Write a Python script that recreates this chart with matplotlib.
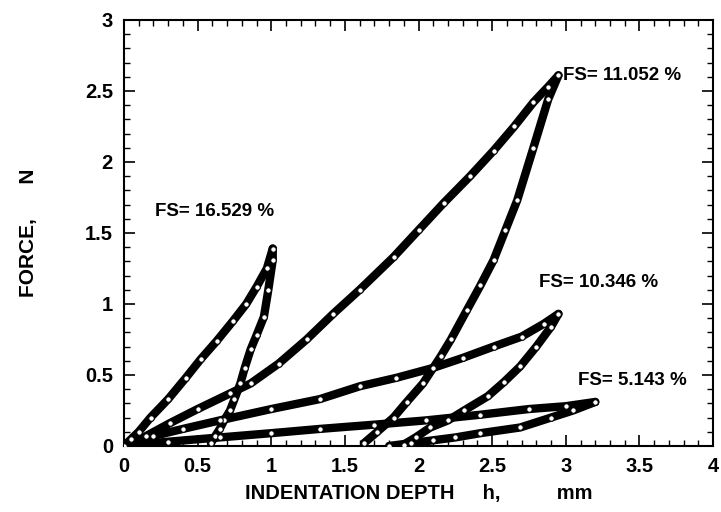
import matplotlib
matplotlib.use("Agg")
import matplotlib.pyplot as plt
from matplotlib.ticker import MultipleLocator

plt.rcParams['font.family'] = ['Liberation Sans', 'DejaVu Sans']

# loop FS = 16.529 %
a_load_h = [0, 0.05, 0.1, 0.18, 0.3, 0.42, 0.52, 0.63, 0.74, 0.83, 0.9, 0.97, 1.01]
a_load_f = [0, 0.05, 0.1, 0.2, 0.33, 0.48, 0.61, 0.74, 0.88, 1.0, 1.12, 1.25, 1.39]
a_unl_h = [1.01, 1.01, 0.98, 0.95, 0.9, 0.86, 0.82, 0.79, 0.75, 0.72, 0.68, 0.65, 0.62, 0.59]
a_unl_f = [1.39, 1.31, 1.1, 0.91, 0.78, 0.68, 0.55, 0.44, 0.33, 0.25, 0.18, 0.12, 0.07, 0.02]

# loop FS = 11.052 %
b_load_h = [0, 0.15, 0.31, 0.5, 0.72, 0.86, 1.05, 1.24, 1.42, 1.6, 1.83, 2.0, 2.17, 2.35, 2.51, 2.65, 2.78, 2.88, 2.95]
b_load_f = [0, 0.07, 0.16, 0.26, 0.37, 0.44, 0.58, 0.75, 0.93, 1.1, 1.33, 1.52, 1.71, 1.9, 2.08, 2.25, 2.42, 2.53, 2.61]
b_unl_h = [2.95, 2.88, 2.78, 2.67, 2.59, 2.51, 2.42, 2.33, 2.22, 2.15, 2.03, 1.92, 1.83, 1.72, 1.63]
b_unl_f = [2.61, 2.44, 2.1, 1.73, 1.52, 1.31, 1.13, 0.96, 0.75, 0.63, 0.44, 0.31, 0.2, 0.1, 0.02]

# loop FS = 10.346 %
c_load_h = [0, 0.2, 0.4, 0.65, 1.0, 1.33, 1.6, 1.85, 2.1, 2.3, 2.51, 2.7, 2.85, 2.95]
c_load_f = [0, 0.07, 0.12, 0.18, 0.26, 0.33, 0.42, 0.48, 0.55, 0.62, 0.7, 0.77, 0.86, 0.93]
c_unl_h = [2.95, 2.9, 2.8, 2.69, 2.58, 2.47, 2.31, 2.2, 2.08, 1.98, 1.9]
c_unl_f = [0.93, 0.84, 0.7, 0.56, 0.45, 0.35, 0.25, 0.18, 0.13, 0.06, 0.01]

# loop FS = 5.143 %
d_load_h = [0, 0.3, 0.65, 1.0, 1.33, 1.7, 2.05, 2.42, 2.75, 3.0, 3.2]
d_load_f = [0, 0.03, 0.06, 0.09, 0.12, 0.15, 0.18, 0.22, 0.26, 0.28, 0.31]
d_unl_h = [3.2, 3.05, 2.9, 2.69, 2.42, 2.25, 2.1, 1.95, 1.8]
d_unl_f = [0.31, 0.25, 0.2, 0.13, 0.09, 0.06, 0.04, 0.02, 0.0]

labels = ['FS= 16.529 %', 'FS= 11.052 %', 'FS= 10.346 %', 'FS= 5.143 %']
label_h = [0.21, 2.98, 2.82, 3.08]
label_f = [1.65, 2.61, 1.15, 0.46]

fig = plt.figure(figsize=(7.21, 5.12), dpi=100)
ax = fig.add_axes([0.172, 0.129, 0.817, 0.832])

branches = [(a_load_h, a_load_f), (a_unl_h, a_unl_f),
            (b_load_h, b_load_f), (b_unl_h, b_unl_f),
            (c_load_h, c_load_f), (c_unl_h, c_unl_f),
            (d_load_h, d_load_f), (d_unl_h, d_unl_f)]
for h, f in branches:
    ax.plot(h, f, color='black', lw=6, solid_capstyle='round', solid_joinstyle='round', zorder=2)
    ax.plot(h, f, 'o', ms=4, mfc='white', mec='black', mew=0.8, zorder=3)

for txt, x, y in zip(labels, label_h, label_f):
    ax.text(x, y, txt, fontsize=13.5, fontweight='bold', va='center', ha='left')

ax.set_xlim(0, 4)
ax.set_ylim(0, 3)
ax.xaxis.set_minor_locator(MultipleLocator(0.1))
ax.yaxis.set_minor_locator(MultipleLocator(0.1))
ax.set_xticks([0, 0.5, 1, 1.5, 2, 2.5, 3, 3.5, 4])
ax.set_xticklabels(['0', '0.5', '1', '1.5', '2', '2.5', '3', '3.5', '4'])
ax.set_yticks([0, 0.5, 1, 1.5, 2, 2.5, 3])
ax.set_yticklabels(['0', '0.5', '1', '1.5', '2', '2.5', '3'])
ax.tick_params(which='both', direction='in', top=True, right=True, labelsize=14.5)
ax.tick_params(which='major', length=8, width=1.2, pad=8)
ax.tick_params(which='minor', length=4, width=1)
for lab in ax.get_xticklabels() + ax.get_yticklabels():
    lab.set_fontweight('bold')
for s in ax.spines.values():
    s.set_linewidth(1.5)

ax.set_xlabel('INDENTATION DEPTH     h,          mm', fontsize=14.5, fontweight='bold', labelpad=6)
ax.set_ylabel('FORCE,      N', fontsize=15, fontweight='bold', labelpad=34)

fig.savefig('out.png', dpi=100)
